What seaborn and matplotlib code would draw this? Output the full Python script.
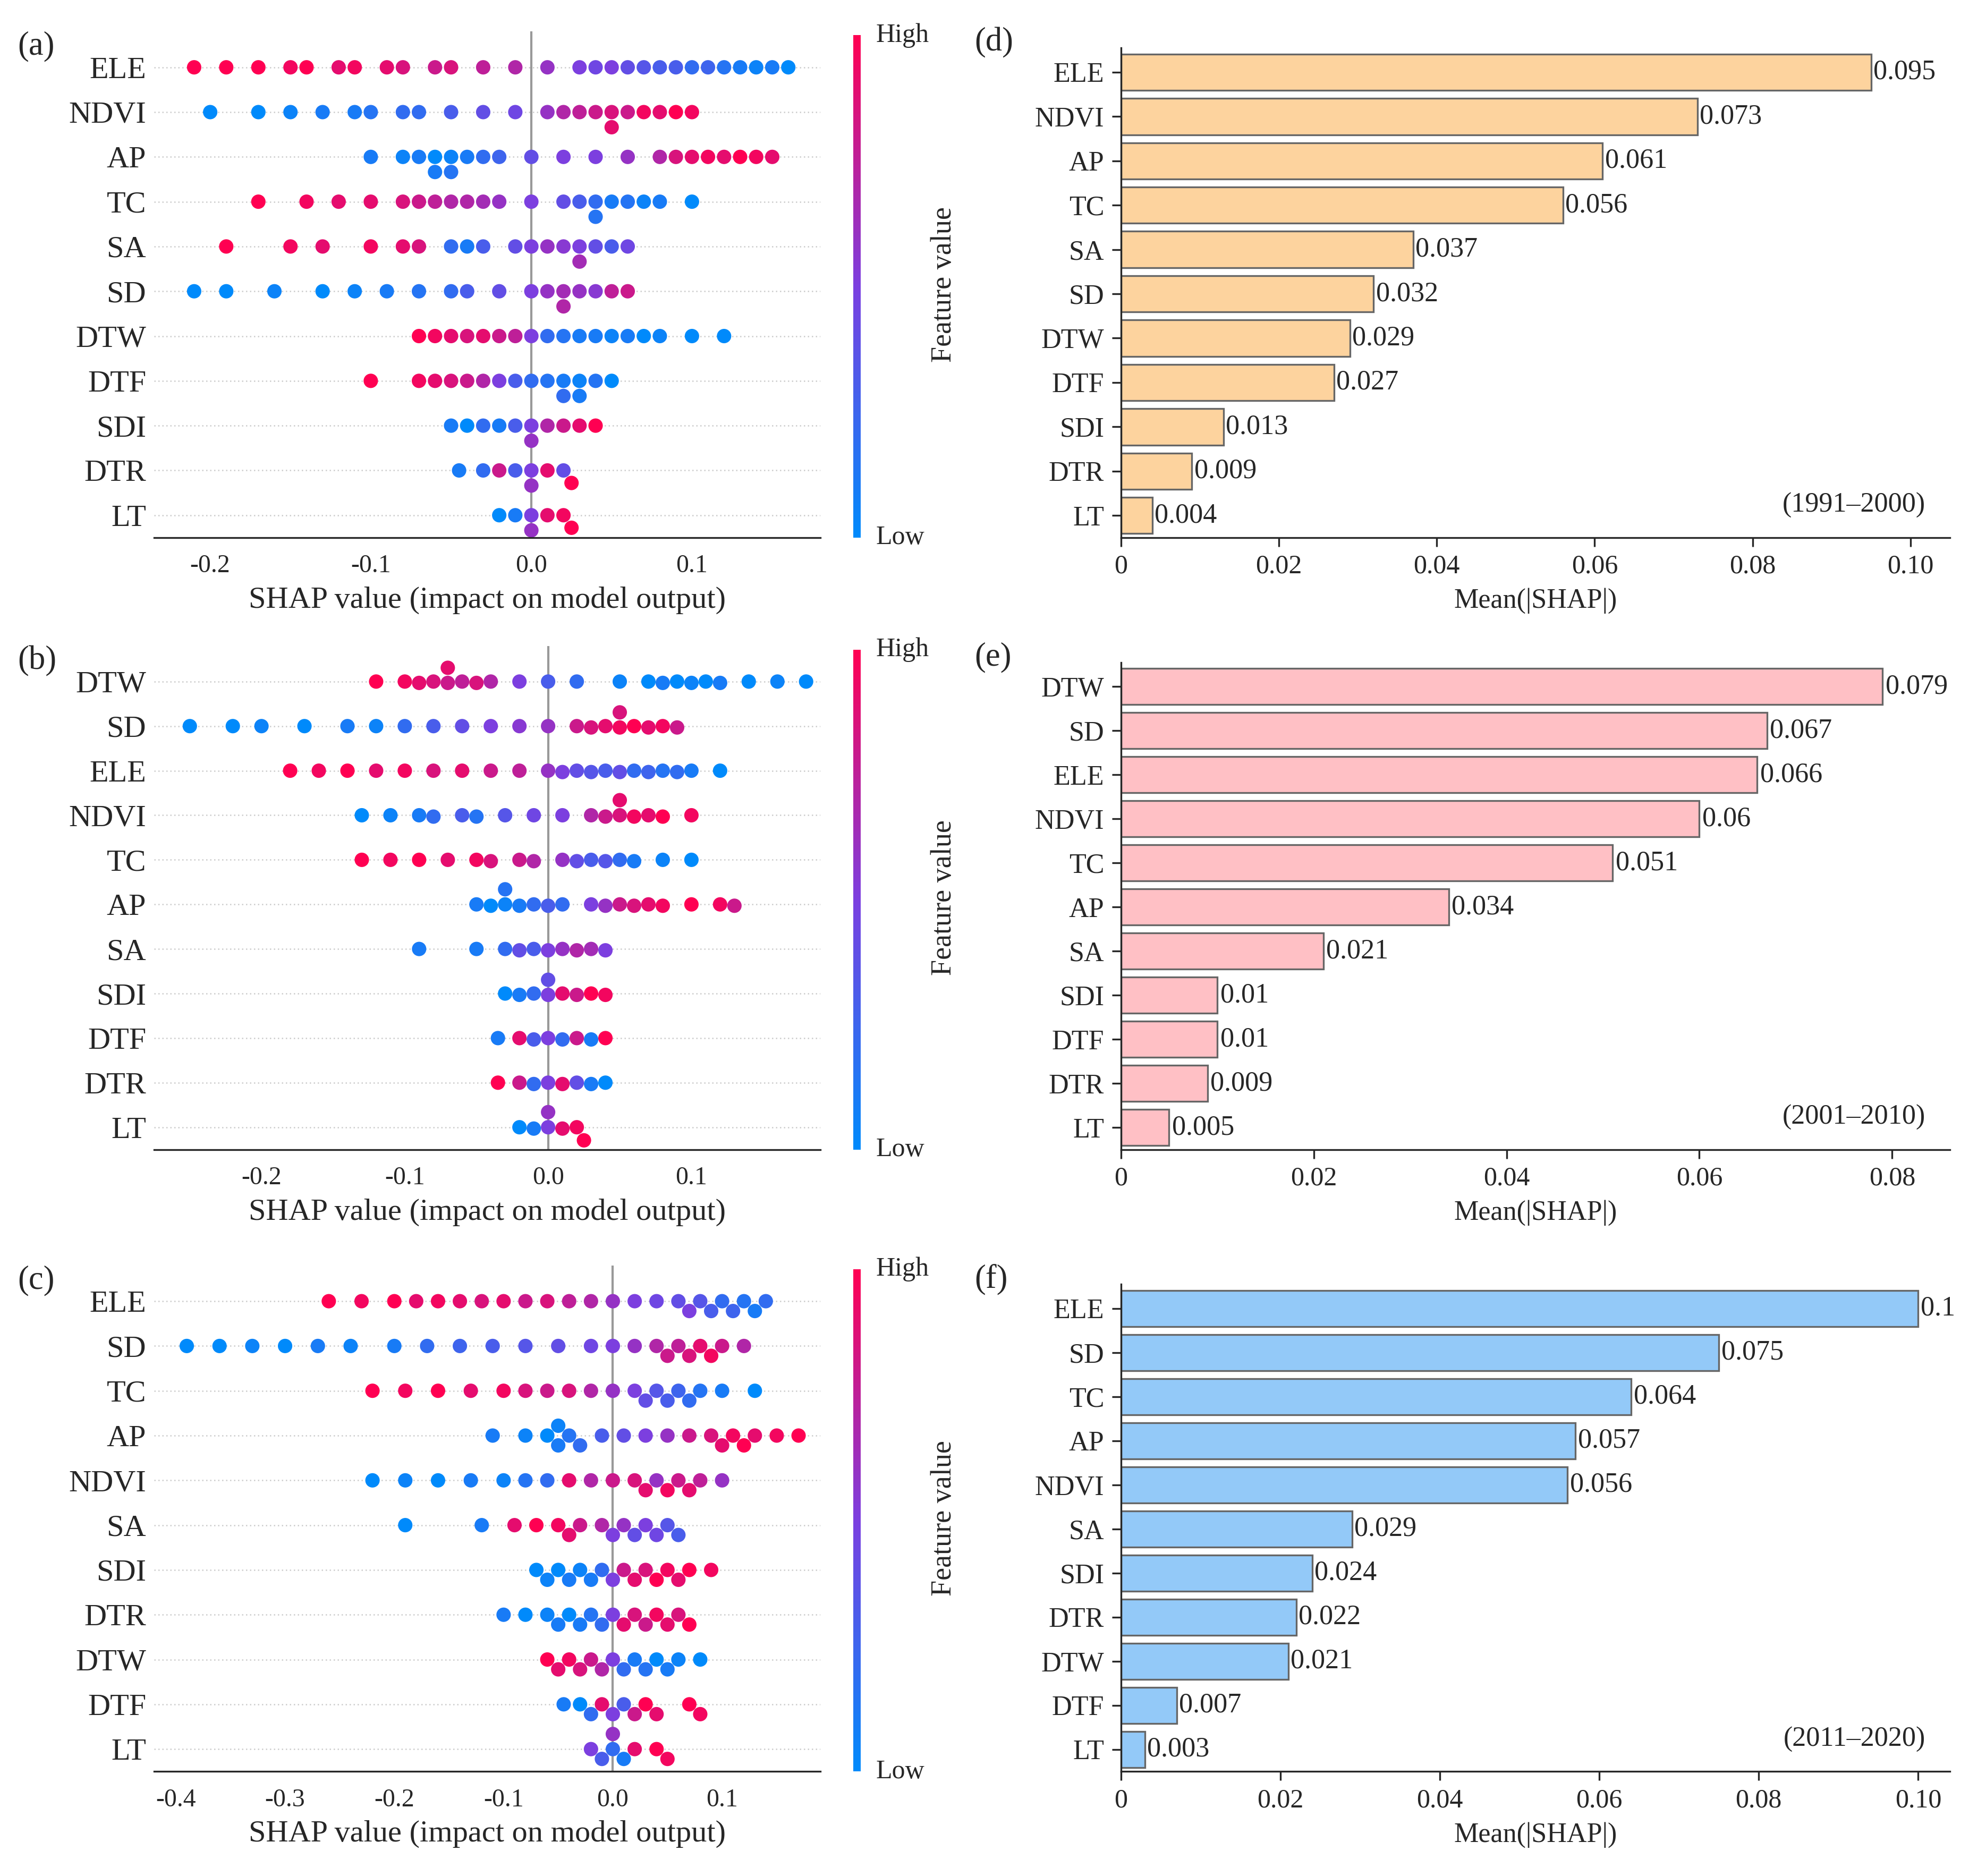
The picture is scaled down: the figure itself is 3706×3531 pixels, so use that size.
import pandas as pd
import numpy as np
import matplotlib
matplotlib.use("Agg")
import matplotlib.pyplot as plt
import matplotlib.colors as mcolors
import matplotlib.colorbar as mcolorbar
import seaborn as sns

sns.set_style("white")
plt.rcParams['font.family'] = ['Liberation Serif', 'DejaVu Serif']

# ---------------- beeswarm data: per feature (shap values, feature values 0-1) ----------------
feats_a = ['ELE', 'NDVI', 'AP', 'TC', 'SA', 'SD', 'DTW', 'DTF', 'SDI', 'DTR', 'LT']
swarm_a = {
    'ELE': ([-0.21,-0.19,-0.17,-0.15,-0.14,-0.12,-0.11,-0.09,-0.08,-0.06,-0.05,-0.03,-0.01,0.01,0.03,0.04,0.05,0.06,0.07,0.08,0.09,0.10,0.11,0.12,0.13,0.14,0.15,0.16],
            [1,1,1,.95,1,.9,.95,.9,.85,.8,.85,.75,.7,.6,.5,.45,.5,.4,.35,.3,.3,.2,.25,.15,.1,.05,.1,0]),
    'NDVI': ([-0.2,-0.17,-0.15,-0.13,-0.11,-0.1,-0.08,-0.07,-0.05,-0.03,-0.01,0.01,0.02,0.03,0.04,0.05,0.05,0.06,0.07,0.08,0.09,0.1],
             [0,0,.05,.1,.1,.15,.2,.2,.3,.4,.45,.6,.7,.75,.8,.85,.9,.8,.95,.9,1,.95]),
    'AP': ([-0.1,-0.08,-0.07,-0.06,-0.06,-0.05,-0.05,-0.04,-0.03,-0.02,0.0,0.02,0.04,0.06,0.08,0.09,0.1,0.11,0.12,0.13,0.14,0.15],
           [.1,.05,.1,0,.1,.05,.15,.1,.2,.25,.4,.5,.5,.6,.7,.85,.9,.95,.9,1,.95,.9]),
    'TC': ([-0.17,-0.14,-0.12,-0.1,-0.08,-0.07,-0.06,-0.05,-0.04,-0.03,-0.02,0.0,0.02,0.03,0.04,0.04,0.05,0.06,0.07,0.08,0.1],
           [1,.95,.9,.9,.85,.8,.75,.7,.7,.65,.6,.5,.4,.3,.2,.15,.1,.15,.05,.1,0]),
    'SA': ([-0.19,-0.15,-0.13,-0.1,-0.08,-0.07,-0.05,-0.04,-0.03,-0.01,0.0,0.01,0.02,0.03,0.03,0.04,0.05,0.06],
           [1,.95,.9,.95,.9,.85,.2,.1,.3,.4,.5,.6,.55,.5,.65,.4,.3,.45]),
    'SD': ([-0.21,-0.19,-0.16,-0.13,-0.11,-0.09,-0.07,-0.05,-0.04,-0.02,0.0,0.01,0.02,0.02,0.03,0.04,0.05,0.06],
           [0,0,.05,0,.05,.1,.15,.2,.3,.4,.5,.6,.65,.7,.6,.55,.75,.8]),
    'DTW': ([-0.07,-0.06,-0.05,-0.04,-0.03,-0.02,-0.01,0.0,0.01,0.02,0.03,0.04,0.05,0.06,0.07,0.08,0.1,0.12],
            [1,.95,.9,.85,.9,.8,.75,.5,.2,.15,.1,.1,.05,.1,0,.05,0,0]),
    'DTF': ([-0.1,-0.07,-0.06,-0.05,-0.04,-0.03,-0.02,-0.01,0.0,0.01,0.02,0.02,0.03,0.03,0.04,0.05],
            [1,.95,.9,.85,.8,.7,.5,.3,.2,.15,.1,.2,.05,.1,.15,0]),
    'SDI': ([-0.05,-0.04,-0.03,-0.02,-0.01,0.0,0.0,0.01,0.02,0.03,0.04], [.1,0,.2,.1,.3,.5,.6,.7,.8,.9,1]),
    'DTR': ([-0.045,-0.03,-0.02,-0.01,0.0,0.0,0.01,0.02,0.025], [.1,.2,.8,.3,.5,.6,.9,.4,1]),
    'LT': ([-0.02,-0.01,0.0,0.0,0.01,0.02,0.025], [0,.1,.5,.6,.9,.95,1]),
}

feats_b = ['DTW', 'SD', 'ELE', 'NDVI', 'TC', 'AP', 'SA', 'SDI', 'DTF', 'DTR', 'LT']
swarm_b = {
    'DTW': ([-0.12,-0.1,-0.09,-0.08,-0.07,-0.07,-0.06,-0.05,-0.04,-0.02,0.0,0.02,0.05,0.07,0.08,0.09,0.1,0.11,0.12,0.14,0.16,0.18],
            [1,.95,.9,.85,.8,.9,.75,.85,.7,.5,.3,.2,.05,0,.1,0,.05,0,.1,0,.05,0]),
    'SD': ([-0.25,-0.22,-0.2,-0.17,-0.14,-0.12,-0.1,-0.08,-0.06,-0.04,-0.02,0.0,0.02,0.03,0.04,0.05,0.05,0.06,0.07,0.08,0.09],
           [0,0,.05,0,.1,.05,.2,.3,.4,.5,.55,.6,.8,.85,.9,.95,.85,1,.9,.95,.8]),
    'ELE': ([-0.18,-0.16,-0.14,-0.12,-0.1,-0.08,-0.06,-0.04,-0.02,0.0,0.01,0.02,0.03,0.04,0.05,0.06,0.07,0.08,0.09,0.1,0.12],
            [1,.95,1,.9,.95,.85,.9,.8,.75,.6,.5,.4,.35,.3,.4,.2,.25,.15,.2,.1,0]),
    'NDVI': ([-0.13,-0.11,-0.09,-0.08,-0.06,-0.05,-0.03,-0.01,0.01,0.03,0.04,0.05,0.05,0.06,0.07,0.08,0.1],
             [0,.05,.1,.2,.3,.15,.35,.45,.5,.7,.8,.85,.9,.95,.9,1,.95]),
    'TC': ([-0.13,-0.11,-0.09,-0.07,-0.05,-0.04,-0.02,-0.01,0.01,0.02,0.03,0.04,0.05,0.06,0.08,0.1],
           [1,.95,1,.9,.95,.85,.8,.7,.6,.4,.3,.35,.2,.1,.05,0]),
    'AP': ([-0.05,-0.04,-0.03,-0.03,-0.02,-0.01,0.0,0.01,0.03,0.04,0.05,0.06,0.07,0.08,0.1,0.12,0.13],
           [.1,0,.05,.15,.1,.2,.3,.2,.5,.6,.8,.85,.9,.95,1,.95,.8]),
    'SA': ([-0.09,-0.05,-0.03,-0.02,-0.01,0.0,0.01,0.02,0.03,0.04], [.1,.1,.2,.4,.3,.5,.6,.7,.65,.5]),
    'SDI': ([-0.03,-0.02,-0.01,0.0,0.0,0.01,0.02,0.03,0.04], [0,.1,.2,.5,.4,.9,.8,1,.95]),
    'DTF': ([-0.035,-0.02,-0.01,0.0,0.01,0.02,0.03,0.04], [.1,.9,.3,.5,.2,.8,.1,1]),
    'DTR': ([-0.035,-0.02,-0.01,0.0,0.01,0.02,0.03,0.04], [1,.8,.2,.5,.9,.4,.1,0]),
    'LT': ([-0.02,-0.01,0.0,0.0,0.01,0.02,0.025], [0,.1,.5,.6,.9,.95,1]),
}

feats_c = ['ELE', 'SD', 'TC', 'AP', 'NDVI', 'SA', 'SDI', 'DTR', 'DTW', 'DTF', 'LT']
swarm_c = {
    'ELE': ([-0.26,-0.23,-0.2,-0.18,-0.16,-0.14,-0.12,-0.1,-0.08,-0.06,-0.04,-0.02,0.0,0.02,0.04,0.06,0.07,0.08,0.09,0.1,0.11,0.12,0.13,0.14],
            [1,.95,1,.9,.95,.9,.85,.9,.8,.85,.75,.7,.6,.5,.45,.4,.5,.35,.3,.2,.25,.15,.1,.2]),
    'SD': ([-0.39,-0.36,-0.33,-0.3,-0.27,-0.24,-0.2,-0.17,-0.14,-0.11,-0.08,-0.05,-0.02,0.0,0.02,0.04,0.05,0.06,0.07,0.08,0.09,0.1,0.12],
           [0,0,.05,0,.1,.05,.1,.2,.25,.3,.35,.4,.45,.5,.6,.7,.8,.75,.85,.9,.95,.8,.7]),
    'TC': ([-0.22,-0.19,-0.16,-0.13,-0.1,-0.08,-0.06,-0.04,-0.02,0.0,0.02,0.03,0.04,0.05,0.06,0.07,0.08,0.1,0.13],
           [1,.95,1,.9,.95,.85,.8,.85,.7,.6,.5,.4,.35,.3,.25,.2,.15,.1,0]),
    'AP': ([-0.11,-0.08,-0.06,-0.05,-0.05,-0.04,-0.03,-0.01,0.01,0.03,0.05,0.07,0.09,0.1,0.11,0.12,0.13,0.15,0.17],
           [.1,.05,0,.1,.05,.15,.2,.3,.4,.5,.6,.8,.85,.9,.95,1,.9,.95,1]),
    'NDVI': ([-0.22,-0.19,-0.16,-0.13,-0.1,-0.08,-0.06,-0.04,-0.02,0.0,0.02,0.03,0.04,0.05,0.06,0.07,0.08,0.1],
             [0,.05,0,.1,.05,.15,.2,.9,.7,.8,.85,.9,.6,.95,.8,.9,.75,.6]),
    'SA': ([-0.19,-0.12,-0.09,-0.07,-0.05,-0.04,-0.03,-0.01,0.0,0.01,0.02,0.03,0.04,0.05,0.06],
           [0,.1,.9,1,.95,.9,.8,.7,.5,.6,.4,.5,.45,.35,.3]),
    'SDI': ([-0.07,-0.06,-0.05,-0.04,-0.03,-0.02,-0.01,0.0,0.01,0.02,0.03,0.04,0.05,0.06,0.07,0.09],
            [0,.05,0,.1,.05,.1,.2,.5,.8,.9,.85,1,.95,.9,1,.95]),
    'DTR': ([-0.1,-0.08,-0.06,-0.05,-0.04,-0.03,-0.02,-0.01,0.0,0.01,0.02,0.03,0.04,0.05,0.06,0.07],
            [.1,0,.05,.1,0,.1,.15,.2,.5,.9,.85,.8,.95,.9,.85,1]),
    'DTW': ([-0.06,-0.05,-0.04,-0.03,-0.02,-0.01,0.0,0.01,0.02,0.03,0.04,0.05,0.06,0.08],
            [1,.9,.95,.85,.8,.7,.5,.2,.1,.15,0,.1,.05,0]),
    'DTF': ([-0.045,-0.03,-0.02,-0.01,0.0,0.01,0.02,0.03,0.04,0.07,0.08], [.1,0,.2,.9,.5,.3,.8,1,.9,1,.95]),
    'LT': ([-0.02,-0.01,0.0,0.0,0.01,0.02,0.04,0.05], [.5,.3,.2,.6,.1,.9,1,.95]),
}

# ---------------- mean |SHAP| bar data ----------------
bar_d_feats = ['ELE', 'NDVI', 'AP', 'TC', 'SA', 'SD', 'DTW', 'DTF', 'SDI', 'DTR', 'LT']
bar_d_vals = [0.095, 0.073, 0.061, 0.056, 0.037, 0.032, 0.029, 0.027, 0.013, 0.009, 0.004]
bar_d_text = ['0.095', '0.073', '0.061', '0.056', '0.037', '0.032', '0.029', '0.027', '0.013', '0.009', '0.004']
bar_e_feats = ['DTW', 'SD', 'ELE', 'NDVI', 'TC', 'AP', 'SA', 'SDI', 'DTF', 'DTR', 'LT']
bar_e_vals = [0.079, 0.067, 0.066, 0.06, 0.051, 0.034, 0.021, 0.01, 0.01, 0.009, 0.005]
bar_e_text = ['0.079', '0.067', '0.066', '0.06', '0.051', '0.034', '0.021', '0.01', '0.01', '0.009', '0.005']
bar_f_feats = ['ELE', 'SD', 'TC', 'AP', 'NDVI', 'SA', 'SDI', 'DTR', 'DTW', 'DTF', 'LT']
bar_f_vals = [0.1, 0.075, 0.064, 0.057, 0.056, 0.029, 0.024, 0.022, 0.021, 0.007, 0.003]
bar_f_text = ['0.1', '0.075', '0.064', '0.057', '0.056', '0.029', '0.024', '0.022', '0.021', '0.007', '0.003']

cmap = mcolors.LinearSegmentedColormap.from_list('shap', ['#008afb', '#7b3fe0', '#ff0052'])

fig = plt.figure(figsize=(3706 / 300, 3531 / 300), dpi=300)
H = 1490.0
W = 1560.0


def box(x0, y0, x1, y1):
    return [x0 / W, 1 - y1 / H, (x1 - x0) / W, (y1 - y0) / H]


rows = [(25, 427), (513, 913), (1005, 1407)]
swarms = [(feats_a, swarm_a, (-0.235, 0.18), [-0.2, -0.1, 0.0, 0.1]),
          (feats_b, swarm_b, (-0.275, 0.19), [-0.2, -0.1, 0.0, 0.1]),
          (feats_c, swarm_c, (-0.42, 0.19), [-0.4, -0.3, -0.2, -0.1, 0.0, 0.1])]

for (y0, y1), (feats, sw, xl, ticks), letter in zip(rows, swarms, ['(a)', '(b)', '(c)']):
    recs = []
    for f in feats:
        for s, v in zip(*sw[f]):
            recs.append({'feature': f, 'shap': s, 'fv': v})
    df = pd.DataFrame(recs)
    ax = fig.add_axes(box(122, y0, 650, y1))
    for i in range(len(feats)):
        ax.axhline(i, color='#cccccc', lw=0.6, ls=(0, (1, 2)), zorder=0)
    ax.axvline(0, color='#999999', lw=1.0, zorder=0)
    sns.swarmplot(data=df, x='shap', y='feature', hue='fv', order=feats, palette=cmap,
                  hue_norm=(0, 1), size=6.5, legend=False, ax=ax, warn_thresh=1, zorder=2)
    ax.set_xlim(*xl)
    ax.set_ylim(len(feats) - 0.5, -0.8)
    ax.set_xticks(ticks)
    ax.set_xticklabels([f'{t:.1f}' for t in ticks])
    ax.set_ylabel('')
    ax.set_xlabel('SHAP value (impact on model output)', fontsize=14)
    for sp in ['top', 'right', 'left']:
        ax.spines[sp].set_visible(False)
    ax.tick_params(axis='y', length=0, labelsize=14)
    ax.tick_params(axis='x', labelsize=11.5, length=4)
    fig.text(14 / W, 1 - (y0 + 12) / H, letter, fontsize=15, va='center')

    cax = fig.add_axes(box(676, y0 + 3, 682, y1))
    cb = mcolorbar.ColorbarBase(cax, cmap=cmap, norm=mcolors.Normalize(0, 1))
    cb.set_ticks([])
    cb.outline.set_visible(False)
    cax.text(3.0, 1.0, 'High', transform=cax.transAxes, fontsize=12, va='center')
    cax.text(3.0, 0.0, 'Low', transform=cax.transAxes, fontsize=12, va='center')
    fig.text(748 / W, 1 - ((y0 + y1) / 2) / H, 'Feature value', rotation=90,
             fontsize=13, ha='center', va='center')

bars = [(bar_d_feats, bar_d_vals, bar_d_text, '#fdd39e', 0.105, [0, 0.02, 0.04, 0.06, 0.08, 0.10], '(d)', '(1991\u20132000)', (38, 427)),
        (bar_e_feats, bar_e_vals, bar_e_text, '#ffc0c5', 0.086, [0, 0.02, 0.04, 0.06, 0.08], '(e)', '(2001\u20132010)', (526, 913)),
        (bar_f_feats, bar_f_vals, bar_f_text, '#93c9f8', 0.104, [0, 0.02, 0.04, 0.06, 0.08, 0.10], '(f)', '(2011\u20132020)', (1020, 1407))]

for feats, vals, texts, col, xmax, ticks, letter, period, (y0, y1) in bars:
    ax = fig.add_axes(box(888, y0, 1545, y1))
    sns.barplot(x=vals, y=feats, orient='h', color=col, edgecolor='#666666',
                linewidth=0.8, width=0.82, ax=ax, saturation=1)
    for i, (v, t) in enumerate(zip(vals, texts)):
        ax.text(v + 0.0003, i, t, va='center', ha='left', fontsize=12.5)
    ax.set_xlim(0, xmax)
    ax.set_ylim(len(feats) - 0.5, -0.55)
    ax.set_xticks(ticks)
    ax.set_xticklabels(['0' if t == 0 else f'{t:.2f}' for t in ticks])
    ax.set_xlabel('Mean(|SHAP|)', fontsize=12.5)
    for sp in ['top', 'right']:
        ax.spines[sp].set_visible(False)
    ax.tick_params(axis='y', labelsize=12.5, length=4, left=True)
    ax.tick_params(axis='x', labelsize=12, length=4, bottom=True)
    ax.text(0.97, 0.04, period, transform=ax.transAxes, ha='right', va='bottom', fontsize=12.5)
    fig.text(772 / W, 1 - (y0 - 4) / H, letter, fontsize=15, va='center')

fig.savefig('out.png', dpi=300)
